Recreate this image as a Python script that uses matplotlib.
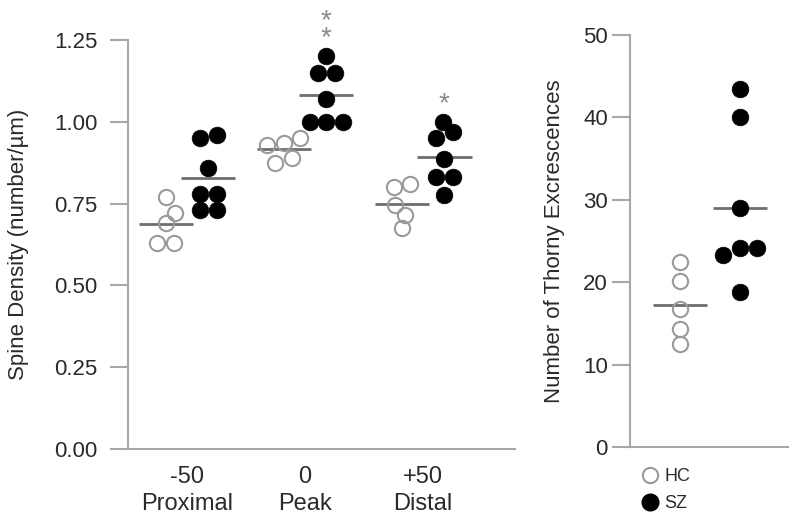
import matplotlib.pyplot as plt
from matplotlib.lines import Line2D
import numpy as np

plt.rcParams['font.family'] = ['Liberation Sans', 'DejaVu Sans']

# spine density (number/um) along the dendrite, one list per position
positions = ['-50\nProximal', '0\nPeak', '+50\nDistal']
hc_density = [
    [0.77, 0.72, 0.69, 0.63, 0.63],
    [0.95, 0.935, 0.93, 0.89, 0.875],
    [0.81, 0.80, 0.745, 0.715, 0.675],
]
sz_density = [
    [0.96, 0.95, 0.86, 0.78, 0.78, 0.73, 0.73],
    [1.20, 1.15, 1.15, 1.07, 1.00, 1.00, 1.00],
    [1.00, 0.97, 0.95, 0.885, 0.83, 0.83, 0.775],
]
stars = ['', '**', '*']

# thorny excrescences per subject
hc_thorny = [22.4, 20.2, 16.7, 14.3, 12.5]
sz_thorny = [43.5, 40.0, 29.0, 24.2, 24.1, 23.3, 18.8]

AXIS_C = '#a8a8a8'
TEXT_C = '#2a2a2a'
HC_C = '#9a9a9a'
MEAN_C = '#6e6e6e'
MS = 12  # marker diameter in points
DPI = 100


# places points side by side (in pixels) so they don't pile up, like a beeswarm
def swarm(ax, values, size_px, tol=8, overlap=0.8):
    values = np.asarray(values, dtype=float)
    ys = ax.transData.transform(np.column_stack([np.zeros(len(values)), values]))[:, 1]
    order = list(np.argsort(values, kind='stable'))
    offsets = np.zeros(len(values))
    placed = []
    i = 0
    while i < len(order):
        row = [order[i]]
        while i + len(row) < len(order) and ys[order[i + len(row)]] - ys[order[i]] < tol:
            row.append(order[i + len(row)])
        if len(row) > 1:
            for k, j in enumerate(row):
                offsets[j] = (k - (len(row) - 1) / 2) * size_px
        else:
            j = row[0]
            o = 0.0
            while True:
                found = None
                for cand in (o, -o):
                    if all(np.hypot(cand - offsets[p], ys[j] - ys[p]) >= overlap * size_px for p in placed):
                        found = cand
                        break
                if found is not None:
                    offsets[j] = found
                    break
                o += 0.5
        placed.extend(row)
        i += len(row)
    px_per_unit = ax.transData.transform((1, 0))[0] - ax.transData.transform((0, 0))[0]
    return offsets / px_per_unit


def style_axes(ax, ypad):
    for s in ['top', 'right']:
        ax.spines[s].set_visible(False)
    for s in ['left', 'bottom']:
        ax.spines[s].set_color(AXIS_C)
        ax.spines[s].set_linewidth(1.5)
    ax.tick_params(axis='y', length=13, width=1.5, color=AXIS_C, labelsize=16,
                   labelcolor=TEXT_C, pad=ypad)
    ax.tick_params(axis='x', length=0, labelsize=17, labelcolor=TEXT_C, pad=12)


def plot_group(ax, x, values, filled, half_width):
    size_px = MS * DPI / 72
    dx = swarm(ax, values, size_px)
    if filled:
        ax.hlines(np.mean(values), x - half_width, x + half_width, color=MEAN_C, lw=2, zorder=2)
        ax.plot(x + dx, values, 'o', ms=MS, mfc='black', mec='black', mew=0.5, ls='', zorder=3,
                clip_on=False)
    else:
        ax.plot(x + dx, values, 'o', ms=MS - 1, mfc='none', mec=HC_C, mew=1.5, ls='', zorder=3,
                clip_on=False)
        ax.hlines(np.mean(values), x - half_width, x + half_width, color=MEAN_C, lw=2, zorder=2)


fig = plt.figure(figsize=(8, 5.22), dpi=DPI)

# left panel: spine density
ax1 = fig.add_axes([0.16, 0.1398, 0.484, 0.7835])
ax1.set_xlim(-0.5, 2.78)
ax1.set_ylim(0, 1.25)
style_axes(ax1, 9)
ax1.set_yticks(np.arange(0, 1.26, 0.25))
ax1.set_yticklabels(['%.2f' % v for v in np.arange(0, 1.26, 0.25)])
ax1.set_xticks(range(len(positions)))
ax1.set_xticklabels(positions, linespacing=1.3)
ax1.set_ylabel('Spine Density (number/µm)', fontsize=16, color=TEXT_C)
ax1.yaxis.set_label_coords(-0.255, 0.5)

for i in range(len(positions)):
    plot_group(ax1, i - 0.18, hc_density[i], False, 0.23)
    plot_group(ax1, i + 0.18, sz_density[i], True, 0.23)
    if stars[i]:
        ax1.annotate('\n'.join(stars[i]), xy=(i + 0.18, max(sz_density[i])), xytext=(0, 3.5),
                     textcoords='offset points', ha='center', va='bottom', fontsize=20,
                     linespacing=0.57, color='#8a8a8a', annotation_clip=False)

# right panel: thorny excrescences
ax2 = fig.add_axes([0.7875, 0.1437, 0.1975, 0.7893])
ax2.set_xlim(-0.833, 1.8)
ax2.set_ylim(0, 50)
style_axes(ax2, 3)
ax2.set_yticks(range(0, 51, 10))
ax2.set_xticks([])
ax2.set_ylabel('Number of Thorny Excrescences', fontsize=16, color=TEXT_C)
ax2.yaxis.set_label_coords(-0.41, 0.5)

plot_group(ax2, 0, hc_thorny, False, 0.45)
plot_group(ax2, 1, sz_thorny, True, 0.45)

handles = [
    Line2D([], [], marker='o', ls='', ms=MS - 1, mfc='none', mec=HC_C, mew=1.5),
    Line2D([], [], marker='o', ls='', ms=MS, mfc='black', mec='black'),
]
fig.legend(handles, ['HC', 'SZ'], loc='upper left', bbox_to_anchor=(0.79, 0.117),
           frameon=False, fontsize=13, handletextpad=0.2, labelspacing=0.55,
           borderaxespad=0, handlelength=1.2, labelcolor=TEXT_C)

fig.savefig('out.png', dpi=DPI)
